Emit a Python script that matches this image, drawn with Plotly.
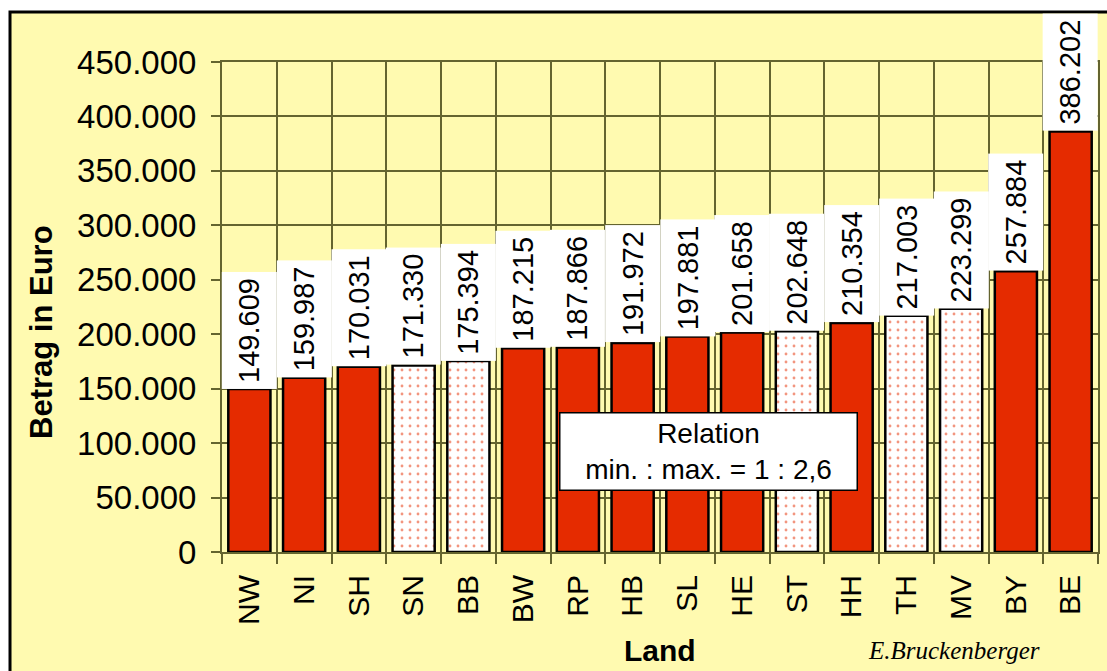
import plotly.graph_objects as go

# ---- data ----
laender = ["NW", "NI", "SH", "SN", "BB", "BW", "RP", "HB", "SL", "HE",
           "ST", "HH", "TH", "MV", "BY", "BE"]
betrag = [149609, 159987, 170031, 171330, 175394, 187215, 187866, 191972,
          197881, 201658, 202648, 210354, 217003, 223299, 257884, 386202]
neue_laender = ["SN", "BB", "ST", "TH", "MV"]
y_ticks = [0, 50000, 100000, 150000, 200000, 250000, 300000, 350000, 400000, 450000]
relation_text = "Relation<br>min. : max. = 1 : 2,6"
y_title = "Betrag in Euro"
x_title = "Land"
signature = "E.Bruckenberger"

# ---- style ----
YELLOW = "#FFFAB0"
RED = "#E52B00"
GRID = "#64642F"
FONT = "Liberation Sans, Arial, sans-serif"

def fmt(v):
    return f"{v:,}".replace(",", ".")

solid_x = [l for l in laender if l not in neue_laender]
solid_y = [v for l, v in zip(laender, betrag) if l not in neue_laender]
dot_x = [l for l in laender if l in neue_laender]
dot_y = [v for l, v in zip(laender, betrag) if l in neue_laender]

fig = go.Figure()
fig.add_trace(go.Bar(
    x=solid_x, y=solid_y, width=0.77,
    marker=dict(color=RED, line=dict(color="black", width=2.5)),
    showlegend=False, hoverinfo="x+y",
))
fig.add_trace(go.Bar(
    x=dot_x, y=dot_y, width=0.77,
    marker=dict(color="white", line=dict(color="black", width=2.5),
                pattern=dict(shape=".", fgcolor=RED, bgcolor="white",
                             size=8, solidity=0.1)),
    showlegend=False, hoverinfo="x+y",
))

annotations = []
for l, v in zip(laender, betrag):
    annotations.append(dict(
        x=l, y=v, xref="x", yref="y", text=fmt(v), showarrow=False,
        textangle=-90, xanchor="center", yanchor="bottom",
        bgcolor="white", width=116, height=54, borderpad=0,
        font=dict(family=FONT, size=29, color="black"),
    ))

annotations.append(dict(
    x=0.5548, y=0.206, xref="paper", yref="paper", text=relation_text,
    showarrow=False, xanchor="center", yanchor="middle",
    bgcolor="white", bordercolor="black", borderwidth=1.5, borderpad=0,
    width=296, height=76, align="center",
    font=dict(family=FONT, size=28, color="black"),
))
annotations.append(dict(
    x=-0.2055, y=0.449, xref="paper", yref="paper", text="<b>" + y_title + "</b>",
    showarrow=False, textangle=-90, xanchor="center", yanchor="middle",
    font=dict(family=FONT, size=31, color="black"),
))
annotations.append(dict(
    x=0.500, y=-0.2, xref="paper", yref="paper", text="<b>" + x_title + "</b>",
    showarrow=False, xanchor="center", yanchor="middle",
    font=dict(family=FONT, size=30, color="black"),
))
annotations.append(dict(
    x=0.836, y=-0.2, xref="paper", yref="paper", text="<i>" + signature + "</i>",
    showarrow=False, xanchor="center", yanchor="middle",
    font=dict(family="Liberation Serif, DejaVu Serif, serif", size=25, color="black"),
))

fig.update_layout(
    width=1107, height=671,
    margin=dict(l=222, r=9, t=62, b=119, autoexpand=False),
    paper_bgcolor="white", plot_bgcolor=YELLOW,
    separators=",.",
    barmode="overlay",
    annotations=annotations,
    shapes=[dict(type="rect", xref="paper", yref="paper",
                 x0=-0.242, x1=1.02, y0=-0.26, y1=1.102,
                 fillcolor=YELLOW, line=dict(color="black", width=3),
                 layer="below")],
    font=dict(family=FONT, color="black"),
)
fig.update_xaxes(
    type="category", categoryorder="array", categoryarray=laender,
    range=[-0.5, len(laender) - 0.5],
    tickson="boundaries", ticks="outside", ticklen=10, tickwidth=1.5, tickcolor=GRID,
    showgrid=True, gridcolor=GRID, gridwidth=1.5,
    showline=True, linecolor=GRID, linewidth=2, mirror=True,
    tickangle=-90, tickfont=dict(family=FONT, size=30, color="black"),
    ticklabelstandoff=9,
)
fig.update_yaxes(
    range=[0, 450000], tickvals=y_ticks, tickformat=",d",
    ticks="outside", ticklen=9, tickwidth=1.5, tickcolor=GRID,
    showgrid=True, gridcolor=GRID, gridwidth=1.5,
    showline=True, linecolor=GRID, linewidth=2, mirror=True,
    zeroline=False,
    tickfont=dict(family=FONT, size=33, color="black"),
    ticklabelstandoff=8,
)

fig.write_html(
    "out.html",
    config={"displayModeBar": False},
    post_script="document.body.style.margin='0';document.body.style.overflow='hidden';",
)
